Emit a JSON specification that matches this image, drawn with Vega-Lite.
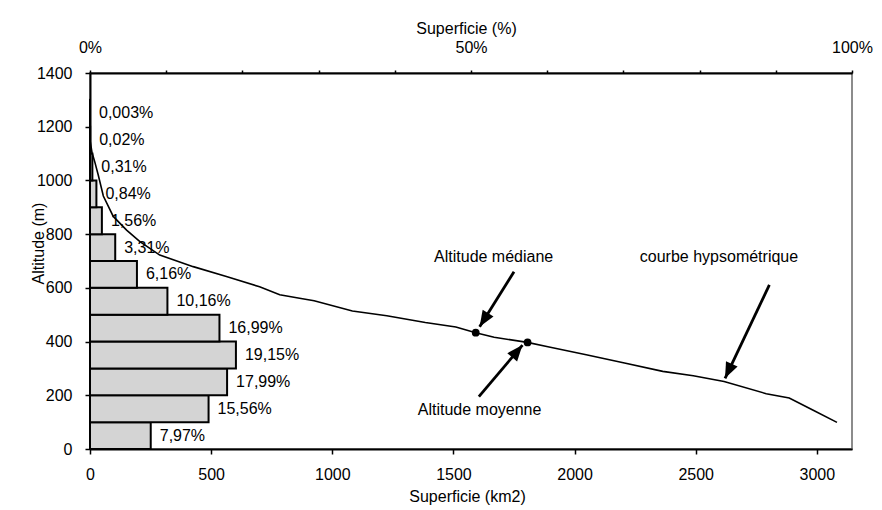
{
  "$schema": "https://vega.github.io/schema/vega-lite/v6.json",
  "width": 762,
  "height": 376,
  "autosize": {"type": "none"},
  "padding": {"left": 90, "top": 73, "right": 30, "bottom": 61},
  "background": "white",
  "datasets": {
    "bands": [
      {"lo": 0, "hi": 100, "share": 0.0797},
      {"lo": 100, "hi": 200, "share": 0.1556},
      {"lo": 200, "hi": 300, "share": 0.1799},
      {"lo": 300, "hi": 400, "share": 0.1915},
      {"lo": 400, "hi": 500, "share": 0.1699},
      {"lo": 500, "hi": 600, "share": 0.1016},
      {"lo": 600, "hi": 700, "share": 0.0616},
      {"lo": 700, "hi": 800, "share": 0.0331},
      {"lo": 800, "hi": 900, "share": 0.0156},
      {"lo": 900, "hi": 1000, "share": 0.0084},
      {"lo": 1000, "hi": 1100, "share": 0.0031},
      {"lo": 1100, "hi": 1200, "share": 0.0002},
      {"lo": 1200, "hi": 1300, "share": 0.00003}
    ],
    "curve": [
      {"area": 0, "alt": 1150},
      {"area": 8, "alt": 1105},
      {"area": 20, "alt": 1068},
      {"area": 34, "alt": 1020},
      {"area": 55, "alt": 942},
      {"area": 96, "alt": 866},
      {"area": 151, "alt": 815},
      {"area": 206, "alt": 772},
      {"area": 288, "alt": 722},
      {"area": 426, "alt": 679},
      {"area": 563, "alt": 642},
      {"area": 700, "alt": 604},
      {"area": 783, "alt": 574},
      {"area": 865, "alt": 561},
      {"area": 925, "alt": 552},
      {"area": 1083, "alt": 514},
      {"area": 1225, "alt": 496},
      {"area": 1384, "alt": 471},
      {"area": 1510, "alt": 454},
      {"area": 1592, "alt": 433},
      {"area": 1668, "alt": 416},
      {"area": 1805, "alt": 397},
      {"area": 1890, "alt": 381},
      {"area": 2048, "alt": 351},
      {"area": 2206, "alt": 320},
      {"area": 2364, "alt": 289},
      {"area": 2490, "alt": 273},
      {"area": 2617, "alt": 251},
      {"area": 2791, "alt": 206},
      {"area": 2886, "alt": 190},
      {"area": 2981, "alt": 146},
      {"area": 3083, "alt": 99}
    ],
    "stats": [
      {"name": "médiane", "area": 1592, "alt": 433},
      {"name": "moyenne", "area": 1806, "alt": 397}
    ],
    "notes": [
      {"text": "Altitude médiane", "area": 1666, "alt": 716},
      {"text": "courbe hypsométrique", "area": 2596, "alt": 714},
      {"text": "Altitude moyenne", "area": 1608, "alt": 145}
    ],
    "arrows": [
      {"name": "médiane", "area": 1750, "alt": 660, "tip_area": 1608, "tip_alt": 455},
      {"name": "moyenne", "area": 1605, "alt": 195, "tip_area": 1785, "tip_alt": 387},
      {"name": "courbe", "area": 2804, "alt": 611, "tip_area": 2621, "tip_alt": 263}
    ]
  },
  "layer": [
    {
      "data": {"name": "bands"},
      "layer": [
        {
          "mark": {"type": "bar", "fill": "#d4d4d4", "stroke": "#000000", "strokeWidth": 2, "clip": false},
          "encoding": {
            "x": {
              "field": "share", "type": "quantitative",
              "scale": {"domain": [0, 1], "nice": false},
              "axis": {
                "orient": "top", "title": "Superficie (%)", "format": "~%",
                "values": [0, 0.1, 0.2, 0.3, 0.4, 0.5, 0.6, 0.7, 0.8, 0.9, 1],
                "labelExpr": "datum.value === 0 || datum.value === 0.5 || datum.value === 1 ? datum.label : ''"
              }
            },
            "x2": {"datum": 0},
            "y": {
              "field": "lo", "type": "quantitative",
              "scale": {"domain": [0, 1400], "nice": false},
              "axis": {"title": "Altitude (m)", "format": "d", "values": [0, 200, 400, 600, 800, 1000, 1200, 1400]}
            },
            "y2": {"field": "hi"}
          }
        },
        {
          "mark": {"type": "text", "align": "left", "baseline": "middle", "dx": 9, "dy": -13.4, "fontSize": 16, "color": "#000000"},
          "encoding": {
            "x": {"field": "share", "type": "quantitative", "axis": {"orient": "top", "title": "Superficie (%)", "format": "~%", "values": [0, 0.1, 0.2, 0.3, 0.4, 0.5, 0.6, 0.7, 0.8, 0.9, 1], "labelExpr": "datum.value === 0 || datum.value === 0.5 || datum.value === 1 ? datum.label : ''"}},
            "y": {"field": "lo", "type": "quantitative", "axis": {"title": "Altitude (m)", "format": "d", "values": [0, 200, 400, 600, 800, 1000, 1200, 1400]}},
            "text": {"field": "share", "type": "quantitative", "format": "~%"}
          }
        }
      ]
    },
    {
      "layer": [
        {
          "data": {"name": "curve"},
          "mark": {"type": "line", "color": "#000000", "strokeWidth": 1.6},
          "encoding": {
            "x": {
              "field": "area", "type": "quantitative",
              "scale": {"domain": [0, 3145], "nice": false},
              "axis": {"orient": "bottom", "title": "Superficie (km2)", "format": "d", "values": [0, 500, 1000, 1500, 2000, 2500, 3000]}
            },
            "y": {"field": "alt", "type": "quantitative", "axis": {"title": "Altitude (m)", "format": "d", "values": [0, 200, 400, 600, 800, 1000, 1200, 1400]}},
            "order": {"field": "area"}
          }
        },
        {
          "data": {"name": "arrows"},
          "mark": {"type": "rule", "color": "#000000", "strokeWidth": 2.8},
          "encoding": {
            "x": {"field": "area", "type": "quantitative", "axis": {"orient": "bottom", "title": "Superficie (km2)", "format": "d", "values": [0, 500, 1000, 1500, 2000, 2500, 3000]}},
            "x2": {"field": "tip_area"},
            "y": {"field": "alt", "type": "quantitative", "axis": {"title": "Altitude (m)", "format": "d", "values": [0, 200, 400, 600, 800, 1000, 1200, 1400]}},
            "y2": {"field": "tip_alt"}
          }
        },
        {
          "data": {"name": "arrows"},
          "transform": [{"filter": "datum.name === 'médiane'"}],
          "mark": {"type": "point", "shape": "M0,0L-0.8,2L0.8,2Z", "size": 256, "filled": true, "color": "#000000", "opacity": 1, "angle": 212},
          "encoding": {
            "x": {"field": "tip_area", "type": "quantitative", "axis": {"orient": "bottom", "title": "Superficie (km2)", "format": "d", "values": [0, 500, 1000, 1500, 2000, 2500, 3000]}},
            "y": {"field": "tip_alt", "type": "quantitative", "axis": {"title": "Altitude (m)", "format": "d", "values": [0, 200, 400, 600, 800, 1000, 1200, 1400]}}
          }
        },
        {
          "data": {"name": "arrows"},
          "transform": [{"filter": "datum.name === 'moyenne'"}],
          "mark": {"type": "point", "shape": "M0,0L-0.8,2L0.8,2Z", "size": 256, "filled": true, "color": "#000000", "opacity": 1, "angle": 40},
          "encoding": {
            "x": {"field": "tip_area", "type": "quantitative", "axis": {"orient": "bottom", "title": "Superficie (km2)", "format": "d", "values": [0, 500, 1000, 1500, 2000, 2500, 3000]}},
            "y": {"field": "tip_alt", "type": "quantitative", "axis": {"title": "Altitude (m)", "format": "d", "values": [0, 200, 400, 600, 800, 1000, 1200, 1400]}}
          }
        },
        {
          "data": {"name": "arrows"},
          "transform": [{"filter": "datum.name === 'courbe'"}],
          "mark": {"type": "point", "shape": "M0,0L-0.8,2L0.8,2Z", "size": 256, "filled": true, "color": "#000000", "opacity": 1, "angle": 205},
          "encoding": {
            "x": {"field": "tip_area", "type": "quantitative", "axis": {"orient": "bottom", "title": "Superficie (km2)", "format": "d", "values": [0, 500, 1000, 1500, 2000, 2500, 3000]}},
            "y": {"field": "tip_alt", "type": "quantitative", "axis": {"title": "Altitude (m)", "format": "d", "values": [0, 200, 400, 600, 800, 1000, 1200, 1400]}}
          }
        },
        {
          "data": {"name": "stats"},
          "mark": {"type": "point", "shape": "circle", "size": 60, "filled": true, "color": "#000000", "opacity": 1},
          "encoding": {
            "x": {"field": "area", "type": "quantitative", "axis": {"orient": "bottom", "title": "Superficie (km2)", "format": "d", "values": [0, 500, 1000, 1500, 2000, 2500, 3000]}},
            "y": {"field": "alt", "type": "quantitative", "axis": {"title": "Altitude (m)", "format": "d", "values": [0, 200, 400, 600, 800, 1000, 1200, 1400]}}
          }
        },
        {
          "data": {"name": "notes"},
          "mark": {"type": "text", "align": "center", "baseline": "middle", "fontSize": 16, "color": "#000000"},
          "encoding": {
            "x": {"field": "area", "type": "quantitative", "axis": {"orient": "bottom", "title": "Superficie (km2)", "format": "d", "values": [0, 500, 1000, 1500, 2000, 2500, 3000]}},
            "y": {"field": "alt", "type": "quantitative", "axis": {"title": "Altitude (m)", "format": "d", "values": [0, 200, 400, 600, 800, 1000, 1200, 1400]}},
            "text": {"field": "text", "type": "nominal"}
          }
        }
      ]
    }
  ],
  "resolve": {"scale": {"x": "independent"}, "axis": {"x": "independent"}},
  "config": {
    "font": "Liberation Sans",
    "locale": {"number": {"decimal": ",", "thousands": " ", "grouping": [3], "currency": ["", " €"]}},
    "view": {"stroke": "#8c8c8c", "strokeWidth": 2},
    "text": {"font": "Liberation Sans"},
    "axis": {
      "grid": false,
      "labelFont": "Liberation Sans",
      "titleFont": "Liberation Sans",
      "labelFontSize": 16,
      "titleFontSize": 16,
      "titleFontWeight": "normal",
      "labelColor": "#000000",
      "titleColor": "#000000",
      "domainColor": "#000000",
      "domainWidth": 2,
      "tickColor": "#000000",
      "tickWidth": 1.5,
      "labelFlush": false,
      "labelOverlap": false,
      "labelBound": false
    },
    "axisLeft": {
      "tickSize": 5,
      "labelPadding": 13,
      "titleAngle": -90,
      "titleX": -52,
      "titleY": 170,
      "titleAlign": "center",
      "titleBaseline": "middle"
    },
    "axisBottom": {
      "tickSize": 5,
      "labelPadding": 12,
      "titleX": 377,
      "titleY": 47,
      "titleAlign": "center",
      "titleBaseline": "middle"
    },
    "axisTop": {
      "tickSize": 3,
      "labelPadding": 15,
      "titleX": 376,
      "titleY": -45,
      "titleAlign": "center",
      "titleBaseline": "middle"
    }
  }
}
